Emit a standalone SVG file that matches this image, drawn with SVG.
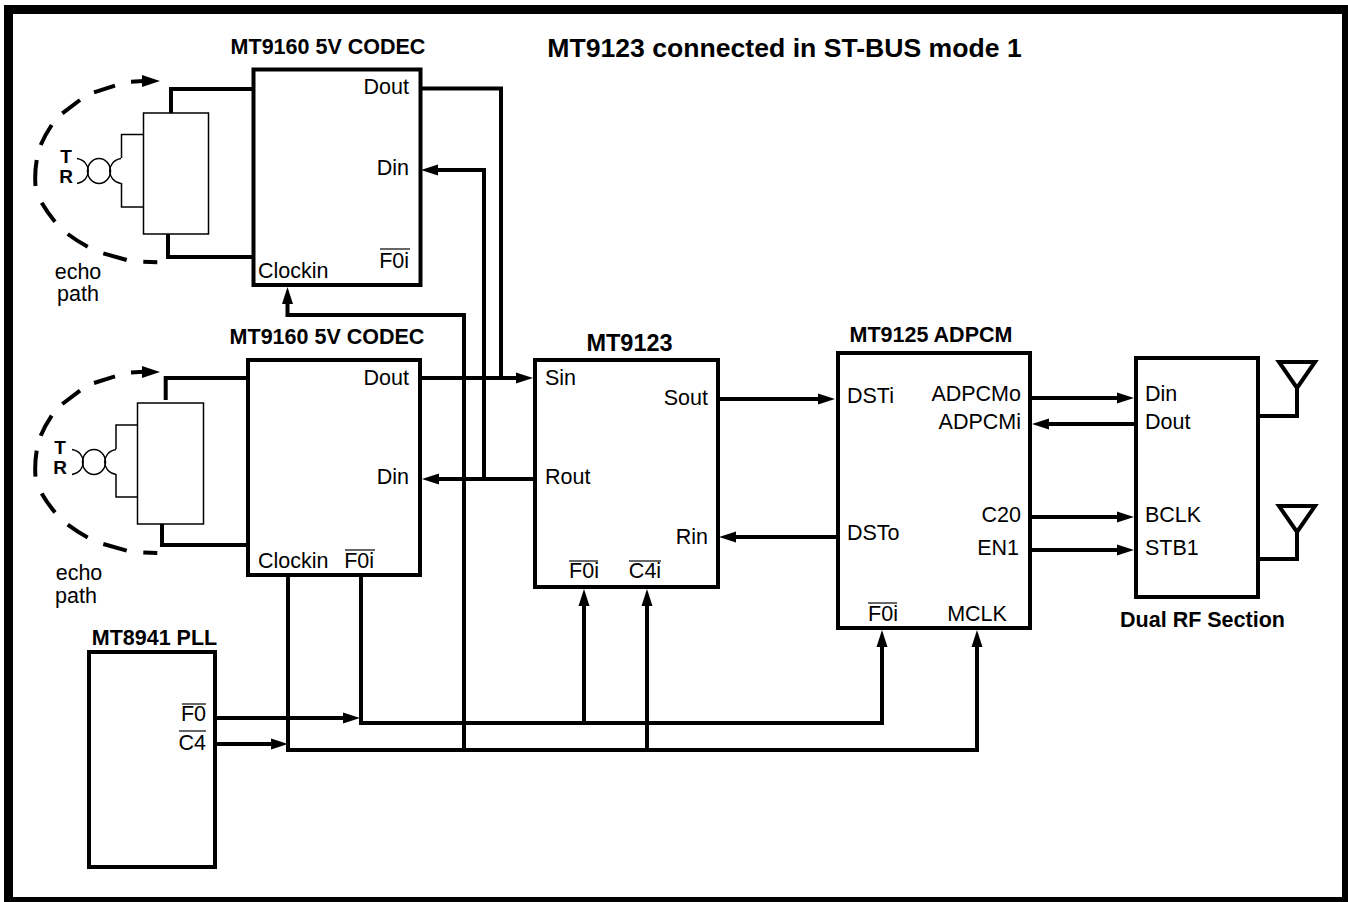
<svg xmlns="http://www.w3.org/2000/svg" width="1348" height="902" viewBox="0 0 1348 902">
<style>
text{font-family:"Liberation Sans",Arial,sans-serif;font-size:21.500px;fill:#000}
.b{font-weight:bold}
.tr{font-weight:bold;font-size:19px}
.box{fill:#fff;stroke:#000;stroke-width:4}
.thin{fill:#fff;stroke:#000;stroke-width:1.500}
.arc{fill:none;stroke:#000;stroke-width:1.500}
.w{fill:none;stroke:#000;stroke-width:4}
.d{fill:none;stroke:#000;stroke-width:4}
.o{stroke:#000;stroke-width:1.200}
</style>
<defs>
<marker id="a" markerUnits="userSpaceOnUse" markerWidth="18" markerHeight="12" refX="7" refY="6" orient="auto"><path d="M0 0.500L17 6L0 11.500Z" fill="#000"/></marker>
</defs>
<rect x="8.500" y="9.500" width="1338" height="892" fill="#fff" stroke="#000" stroke-width="9"/>
<text x="784.500" y="57" text-anchor="middle" class="b" style="font-size:26.600px">MT9123 connected in ST-BUS mode 1</text>
<g id="connectors">
<path class="w" d="M421 88.500H501V378"/>
<path class="w" d="M484 479V170H431" marker-end="url(#a)"/>
<path class="w" d="M421 378H523" marker-end="url(#a)"/>
<path class="w" d="M535 479H432" marker-end="url(#a)"/>
<path class="w" d="M718 399H825" marker-end="url(#a)"/>
<path class="w" d="M838 537H729" marker-end="url(#a)"/>
<path class="w" d="M1030 398H1124" marker-end="url(#a)"/>
<path class="w" d="M1136 424H1042" marker-end="url(#a)"/>
<path class="w" d="M1030 517H1124" marker-end="url(#a)"/>
<path class="w" d="M1030 550H1124" marker-end="url(#a)"/>
<path class="w" d="M215 718H350" marker-end="url(#a)"/>
<path class="w" d="M215 744H278" marker-end="url(#a)"/>
<path class="w" d="M361 575V723H882V640" marker-end="url(#a)"/>
<path class="w" d="M288 575V750H977V640" marker-end="url(#a)"/>
<path class="w" d="M584 723V599" marker-end="url(#a)"/>
<path class="w" d="M647 750V599" marker-end="url(#a)"/>
<path class="w" d="M464 750V315H287.500V297" marker-end="url(#a)"/>
<path class="w" d="M1258 416H1297V388"/>
<path class="w" d="M1258 559H1297V533"/>
</g>
<g id="codec1">
<rect class="box" x="253.500" y="69.500" width="167" height="215.500"/>
<text class="b" x="328" y="54" text-anchor="middle">MT9160 5V CODEC</text>
<text x="409" y="94" text-anchor="end">Dout</text>
<text x="409" y="175" text-anchor="end">Din</text>
<text x="409" y="268" text-anchor="end">F0i</text>
<path class="o" d="M380 249H410"/>
<text x="258" y="278">Clockin</text>
</g>
<g id="phone1">
<path class="w" d="M253 89H171V113M168 234V257H253"/>
<rect class="thin" x="143.500" y="113" width="65" height="121"/>
<path class="arc" d="M143 134.500H121.500V158M121.500 183V207H143"/>
<ellipse class="arc" cx="99" cy="171" rx="11.500" ry="12.500"/>
<path class="arc" d="M77 158.500C92 161 92 181 77 183.500M121 158.500C106 161 106 181 121 183.500"/>
<text class="tr" x="66" y="163" text-anchor="middle">T</text>
<text class="tr" x="66" y="183" text-anchor="middle">R</text>
<path class="d" d="M131 81.700L144 81M115 85.700L94 92.300M80 100L62.300 113.300M51.700 125Q45 135 40.700 145M36.700 160Q34.500 173 35.500 186M41.700 202.700Q47 212 55 221.700M67.700 234Q77 241 87.700 246.700M103.300 253.300L126.700 260M143.300 261.700L157.300 262.300"/>
<path d="M142 75L160 81L142 87Z"/>
<text x="78" y="279" text-anchor="middle">echo</text>
<text x="78" y="301" text-anchor="middle">path</text>
</g>
<g id="codec2">
<rect class="box" x="248" y="360" width="172" height="215"/>
<text class="b" x="327" y="344" text-anchor="middle">MT9160 5V CODEC</text>
<text x="409" y="385" text-anchor="end">Dout</text>
<text x="409" y="484" text-anchor="end">Din</text>
<text x="258" y="568">Clockin</text>
<text x="374" y="568" text-anchor="end">F0i</text>
<path class="o" d="M345 550H375"/>
</g>
<g id="phone2">
<path class="w" d="M248 378H165.700V400M162 522V545H248"/>
<rect class="thin" x="137.500" y="403" width="66" height="121"/>
<path class="arc" d="M137 425H116V449M116 474V497H137"/>
<ellipse class="arc" cx="94" cy="462" rx="11.500" ry="12.500"/>
<path class="arc" d="M72 449.500C87 452 87 472 72 474.500M116 449.500C101 452 101 472 116 474.500"/>
<text class="tr" x="60" y="454" text-anchor="middle">T</text>
<text class="tr" x="60" y="474" text-anchor="middle">R</text>
<path class="d" transform="translate(0,290.700)" d="M131 81.700L144 81M115 85.700L94 92.300M80 100L62.300 113.300M51.700 125Q45 135 40.700 145M36.700 160Q34.500 173 35.500 186M41.700 202.700Q47 212 55 221.700M67.700 234Q77 241 87.700 246.700M103.300 253.300L126.700 260M143.300 261.700L157.300 262.300"/>
<path d="M142 366L160 372L142 378Z"/>
<text x="79" y="580" text-anchor="middle">echo</text>
<text x="76" y="603" text-anchor="middle">path</text>
</g>
<g id="mt9123">
<rect class="box" x="535" y="360" width="183" height="227"/>
<text class="b" x="629.500" y="351" text-anchor="middle" style="font-size:23.500px">MT9123</text>
<text x="545" y="385">Sin</text>
<text x="708" y="405" text-anchor="end">Sout</text>
<text x="545" y="484">Rout</text>
<text x="708" y="544" text-anchor="end">Rin</text>
<text x="584" y="578" text-anchor="middle">F0i</text>
<path class="o" d="M569 561H598"/>
<text x="645" y="578" text-anchor="middle">C4i</text>
<path class="o" d="M629 561H661"/>
</g>
<g id="mt9125">
<rect class="box" x="838" y="353" width="192" height="275"/>
<text class="b" x="931" y="342" text-anchor="middle">MT9125 ADPCM</text>
<text x="847" y="403">DSTi</text>
<text x="1021" y="401" text-anchor="end">ADPCMo</text>
<text x="1021" y="429" text-anchor="end">ADPCMi</text>
<text x="1021" y="522" text-anchor="end">C20</text>
<text x="1019" y="555" text-anchor="end">EN1</text>
<text x="847" y="540">DSTo</text>
<text x="883" y="621" text-anchor="middle">F0i</text>
<path class="o" d="M868 603H897"/>
<text x="977" y="621" text-anchor="middle">MCLK</text>
</g>
<g id="rf">
<rect class="box" x="1136" y="358" width="122" height="239"/>
<text x="1145" y="401">Din</text>
<text x="1145" y="429">Dout</text>
<text x="1145" y="522">BCLK</text>
<text x="1145" y="555">STB1</text>
<text class="b" x="1202.500" y="627" text-anchor="middle">Dual RF Section</text>
<path class="w" d="M1279 362H1315L1297 388Z"/>
<path class="w" d="M1279 506H1315L1297 532Z"/>
</g>
<g id="pll">
<rect class="box" x="89" y="652" width="126" height="215"/>
<text class="b" x="154.500" y="645" text-anchor="middle">MT8941 PLL</text>
<text x="206" y="721" text-anchor="end">F0</text>
<path class="o" d="M182 704H206"/>
<text x="206" y="750" text-anchor="end">C4</text>
<path class="o" d="M179 731H206"/>
</g>
</svg>
